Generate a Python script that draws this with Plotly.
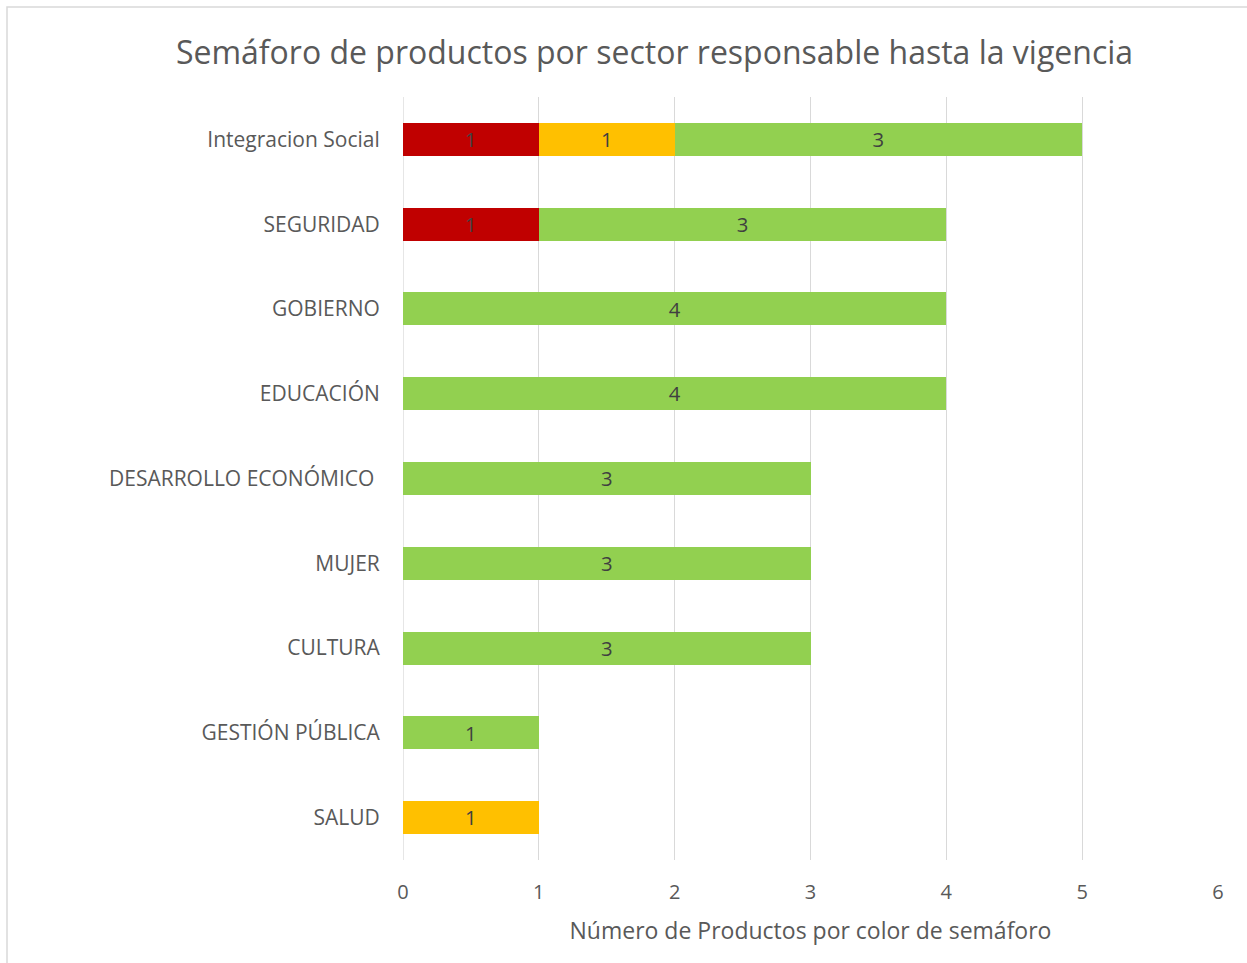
import plotly.graph_objects as go

categories = ["Integracion Social", "SEGURIDAD", "GOBIERNO", "EDUCACIÓN",
              "DESARROLLO ECONÓMICO ", "MUJER", "CULTURA", "GESTIÓN PÚBLICA", "SALUD"]
rojo = [1, 1, 0, 0, 0, 0, 0, 0, 0]
amarillo = [1, 0, 0, 0, 0, 0, 0, 0, 1]
verde = [3, 3, 4, 4, 3, 3, 3, 1, 0]

series = [("Rojo", rojo, "#C00000"), ("Amarillo", amarillo, "#FFC000"), ("Verde", verde, "#92D050")]

FONT = "Open Sans"
fig = go.Figure()
for name, vals, color in series:
    fig.add_trace(go.Bar(
        y=categories, x=[v if v else None for v in vals], name=name, orientation="h",
        marker=dict(color=color, line=dict(width=0)),
        text=[str(v) if v else "" for v in vals], textposition="inside",
        insidetextanchor="middle", textangle=0,
        textfont=dict(family=FONT, size=21, color="#404040"),
        hoverinfo="x+y",
    ))

W, H = 1247, 963
L, R, T, B = 403, 1218, 97, 860
pw, ph = R - L, B - T

def px(x):
    return (x - L) / pw

def py(y):
    return (B - y) / ph

fig.update_layout(
    width=W, height=H, barmode="stack", bargap=0.61, showlegend=False,
    margin=dict(l=L, r=W - R, t=T, b=H - B),
    paper_bgcolor="white", plot_bgcolor="white",
    font=dict(family=FONT, color="#595959"),
    title=dict(text="Semáforo de productos por sector responsable hasta la vigencia",
               x=654.5 / W, xanchor="center", y=1 - 53 / H, yanchor="middle",
               font=dict(family=FONT, size=32, color="#595959")),
    uniformtext=dict(minsize=10, mode="show"),
    xaxis=dict(range=[0, 6], dtick=1, showgrid=True, gridcolor="#D9D9D9", gridwidth=1.3,
               zeroline=False, showline=False,
               tickfont=dict(family=FONT, size=20, color="#595959"),
               ticks="outside", ticklen=14, tickcolor="rgba(0,0,0,0)",
               title=dict(text="Número de Productos por color de semáforo",
                          font=dict(family=FONT, size=23, color="#595959"), standoff=18)),
    yaxis=dict(autorange="reversed", showgrid=False, showline=False, zeroline=False,
               tickfont=dict(family=FONT, size=21, color="#595959"),
               ticks="outside", ticklen=18, tickcolor="rgba(0,0,0,0)"),
    shapes=[dict(type="line", xref="x", yref="paper", x0=0, x1=0, y0=0, y1=1,
                 line=dict(color="#D9D9D9", width=1.3), layer="below"),
            dict(type="rect", xref="paper", yref="paper",
                 x0=px(7), x1=px(1260), y0=py(980), y1=py(7),
                 line=dict(color="#D9D9D9", width=1.5), fillcolor="rgba(0,0,0,0)")],
)

fig.write_html("out.html", config={"displayModeBar": False},
               post_script="document.body.style.margin='0';document.body.style.overflow='hidden';")
